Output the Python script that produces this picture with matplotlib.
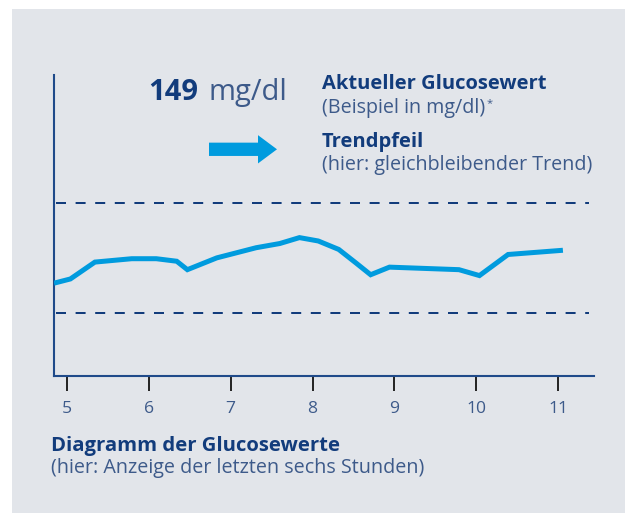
import matplotlib
matplotlib.use("Agg")
import matplotlib.pyplot as plt
from matplotlib.patches import Rectangle, FancyArrow
from matplotlib.transforms import Affine2D

# ---- data ----
hours = [4.84, 5.04, 5.34, 5.79, 6.09, 6.34, 6.47, 6.83, 7.31, 7.60, 7.84,
         8.07, 8.32, 8.53, 8.71, 8.94, 9.79, 10.04, 10.39, 11.06]
glucose = [110, 115, 135, 139, 139, 136, 126, 140, 152, 157, 164,
           160, 150, 134, 120, 129, 126, 119, 144, 149]
upper_limit = 205
lower_limit = 75
xticks = [5, 6, 7, 8, 9, 10, 11]
xtick_labels = ["5", "6", "7", "8", "9", "10", "11"]

W, H = 625, 513
plt.rcParams['font.family'] = ['Open Sans', 'DejaVu Sans']
fig = plt.figure(figsize=(W / 100, H / 100), dpi=100)
fig.patch.set_facecolor("white")

# pixel transform (origin top-left)
px = Affine2D().scale(1 / W, -1 / H).translate(0, 1) + fig.transFigure

panel = Rectangle((12, 9), W - 12, H - 9, transform=px, facecolor="#e2e5ea",
                  edgecolor="none", zorder=-10)
fig.patches.append(panel)

NAVY = "#123c7c"
MUTED = "#3d5a8a"
BLUE = "#009bde"

ax = fig.add_axes([54 / W, (H - 376) / H, (594 - 54) / W, (376 - 75) / H])
ax.set_zorder(5)
ax.set_facecolor("none")
ax.set_xlim(4.84, 11.44)
ax.set_ylim(0, 356.7)

ax.plot(hours, glucose, color=BLUE, lw=3.6, solid_joinstyle="miter",
        solid_capstyle="butt", zorder=3)
for lvl in (upper_limit, lower_limit):
    ax.plot([4.86, 11.38], [lvl, lvl], color=NAVY, lw=1.44, ls=(0, (5, 4.8)),
            dash_capstyle="butt", zorder=2)

for s in ("top", "right"):
    ax.spines[s].set_visible(False)
for s in ("left", "bottom"):
    ax.spines[s].set_color("#1f4a8a")
    ax.spines[s].set_linewidth(1.5)
ax.set_yticks([])
ax.set_xticks(xticks)
ax.set_xticklabels(xtick_labels)
ax.tick_params(axis="x", length=11, width=1.4, color="#222222", pad=7,
               labelsize=12.6, labelcolor=MUTED, direction="out")

# texts
fig.text(148 / W, 1 - 100 / H, "149", fontsize=21, fontweight="bold", color=NAVY,
         ha="left", va="baseline")
fig.text(287 / W, 1 - 100 / H, "mg/dl", fontsize=21, color=MUTED,
         ha="right", va="baseline")
fig.text(322 / W, 1 - 89 / H, "Aktueller Glucosewert", fontsize=14.5, fontweight="bold",
         color=NAVY, ha="left", va="baseline")
fig.text(322 / W, 1 - 113 / H, "(Beispiel in mg/dl)", fontsize=14.2, color=MUTED,
         ha="left", va="baseline")
fig.text(487 / W, 1 - 106 / H, "*", fontsize=8, color=MUTED,
         ha="left", va="baseline")
fig.text(322 / W, 1 - 147 / H, "Trendpfeil", fontsize=14.5, fontweight="bold",
         color=NAVY, ha="left", va="baseline")
fig.text(322 / W, 1 - 170 / H, "(hier: gleichbleibender Trend)", fontsize=14.2, color=MUTED,
         ha="left", va="baseline")
fig.text(51 / W, 1 - 450.7 / H, "Diagramm der Glucosewerte", fontsize=14.6,
         fontweight="bold", color=NAVY, ha="left", va="baseline")
fig.text(51 / W, 1 - 473 / H, "(hier: Anzeige der letzten sechs Stunden)", fontsize=14.2,
         color=MUTED, ha="left", va="baseline")

# trend arrow (pixel coordinates)
arrow = FancyArrow(209, 149.3, 68, 0, width=13.3, head_width=28.3, head_length=19,
                   length_includes_head=True, transform=px, color=BLUE, lw=0)
fig.patches.append(arrow)

fig.savefig("out.png", dpi=100, facecolor=fig.get_facecolor())
